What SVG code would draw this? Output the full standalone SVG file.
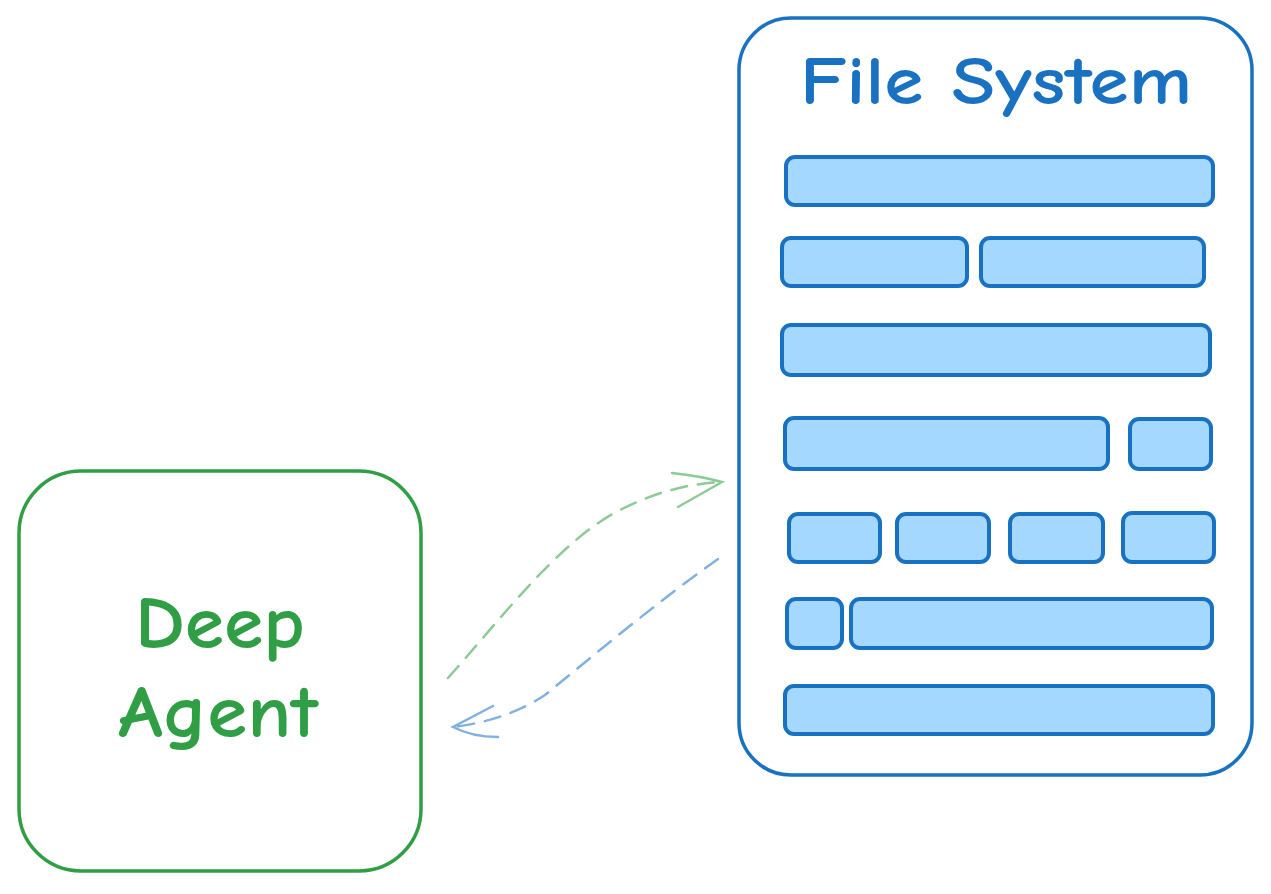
<svg xmlns="http://www.w3.org/2000/svg" width="1271" height="894" viewBox="0 0 1271 894">
<style>
.blk{fill:#a5d8ff;stroke:#1971c2;stroke-width:4;stroke-linejoin:round}
.lbl{font-family:"Comic Neue","Liberation Sans",sans-serif;font-weight:700;text-anchor:middle}
.conn{fill:none;stroke-width:2.5;stroke-linecap:round;opacity:0.55}
</style>
<rect width="1271" height="894" fill="#ffffff"/>
<g id="deep-agent">
<rect x="19" y="471" width="402" height="400" rx="62" fill="none" stroke="#2f9e44" stroke-width="3.5"/>
<text class="lbl" x="220" y="648" font-size="74" fill="#2f9e44" textLength="170" lengthAdjust="spacingAndGlyphs">Deep</text>
<text class="lbl" x="218" y="737" font-size="74" fill="#2f9e44" textLength="200" lengthAdjust="spacingAndGlyphs">Agent</text>
</g>
<g id="file-system">
<rect x="739" y="18" width="513" height="757" rx="52" fill="none" stroke="#1971c2" stroke-width="3.5"/>
<text class="lbl" x="996" y="104" font-size="68" fill="#1971c2" textLength="392" lengthAdjust="spacingAndGlyphs">File System</text>
<rect class="blk" x="786" y="157" width="427" height="48" rx="9"/>
<rect class="blk" x="782" y="238" width="185" height="48" rx="9"/>
<rect class="blk" x="981" y="238" width="223" height="48" rx="9"/>
<rect class="blk" x="782" y="325" width="428" height="50" rx="9"/>
<rect class="blk" x="785" y="418" width="323" height="51" rx="9"/>
<rect class="blk" x="1130" y="419" width="81" height="50" rx="9"/>
<rect class="blk" x="789" y="514" width="91" height="48" rx="9"/>
<rect class="blk" x="897" y="514" width="92" height="48" rx="9"/>
<rect class="blk" x="1010" y="514" width="93" height="48" rx="9"/>
<rect class="blk" x="1123" y="513" width="91" height="49" rx="9"/>
<rect class="blk" x="787" y="599" width="55" height="49" rx="9"/>
<rect class="blk" x="851" y="599" width="361" height="49" rx="9"/>
<rect class="blk" x="785" y="686" width="428" height="48" rx="9"/>
</g>
<g id="connectors">
<path class="conn" stroke="#2f9e44" stroke-dasharray="16 11" d="M448 678 C 500 620, 560 540, 620 510 C 660 490, 690 484, 722 482"/>
<path class="conn" stroke="#2f9e44" d="M672 473 Q 700 476 722 482 L 678 507"/>
<path class="conn" stroke="#1971c2" stroke-dasharray="16 11" d="M718 559 C 660 600, 600 650, 545 695 C 515 715, 480 724, 453 727"/>
<path class="conn" stroke="#1971c2" d="M493 706 Q 470 718 453 727 Q 472 737 498 737"/>
</g>
</svg>
